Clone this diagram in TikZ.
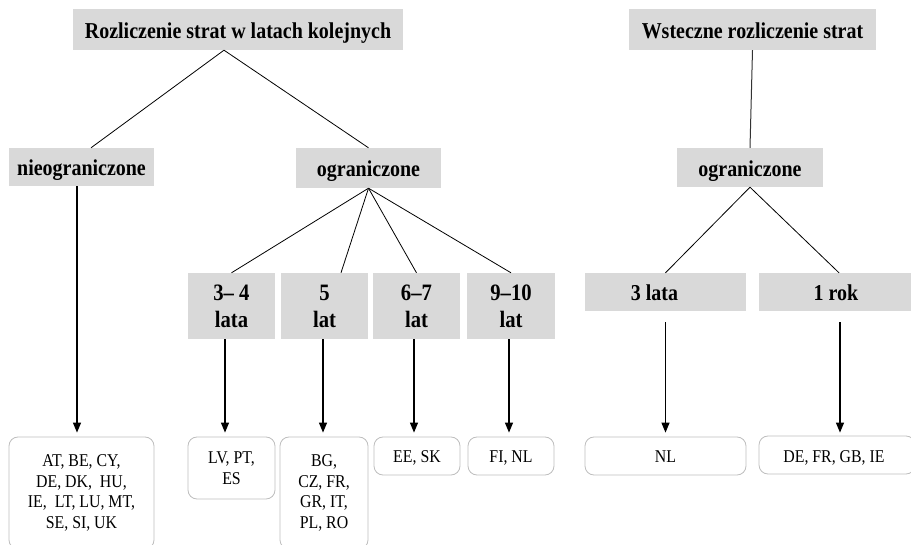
\documentclass[tikz,border=0pt]{standalone}
\usepackage{fontspec}
\setmainfont[FakeStretch=0.88]{Liberation Serif}
\usetikzlibrary{arrows.meta,calc}
\definecolor{hdrfill}{RGB}{217,217,217}
\definecolor{leafdraw}{RGB}{190,190,190}
\begin{document}
\begin{tikzpicture}[x=1pt,y=-1pt,
  hdr/.style={fill=hdrfill, draw=none, inner sep=0pt, font=\fontsize{22.7}{27}\selectfont\bfseries, align=center},
  hdrone/.style={hdr, text height=17.5pt, text depth=0pt},
  hdrb/.style={hdr, font=\fontsize{23.5}{27}\selectfont\bfseries},
  leaf/.style={draw=leafdraw, line width=0.8pt, rounded corners=9pt, fill=white, inner sep=0pt, font=\fontsize{18}{20.7}\selectfont, align=center},
  leafone/.style={leaf, text height=14pt, text depth=0pt},
  link/.style={line width=0.8pt},
  arr/.style={line width=1.2pt, -{Triangle[length=10pt,width=8pt]}}]
\useasboundingbox (0,0) rectangle (911,545);
\clip (0,0) rectangle (911,545);
% headers
\node[hdrone, minimum width=330pt, minimum height=41pt] (top) at (238,29.5) {Rozliczenie strat w latach kolejnych};
\node[hdrone, minimum width=145pt, minimum height=38pt] (nieo) at (81.5,167) {nieograniczone};
\node[hdrone, minimum width=145pt, minimum height=40pt] (ogr) at (368.5,168) {ograniczone};
\node[hdrone, minimum width=247pt, minimum height=41pt] (wst) at (752.5,29.5) {Wsteczne rozliczenie strat};
\node[hdrone, minimum width=146pt, minimum height=39pt] (ogrb) at (750,167.5) {ograniczone};
\node[hdrb, minimum width=87pt, minimum height=66pt] (b34) at (231.5,306) {3– 4\\lata};
\node[hdrb, minimum width=87pt, minimum height=66pt] (b5) at (324.5,306) {5\\lat};
\node[hdrb, minimum width=87pt, minimum height=66pt] (b67) at (416.5,306) {6–7\\lat};
\node[hdrb, minimum width=88pt, minimum height=66pt] (b910) at (511,306) {9–10\\lat};
\node[hdrone, minimum width=161pt, minimum height=38pt] (b3l) at (665.5,292) {3 lata\hspace*{22pt}};
\node[hdrone, minimum width=154pt, minimum height=38pt] (b1r) at (836,292) {1 rok};
% leaves
\node[leaf, minimum width=145pt, minimum height=112pt] (l0) at (81.5,493) {AT, BE, CY,\\DE, DK,~ HU,\\IE,~ LT, LU, MT,\\SE, SI, UK};
\node[leaf, minimum width=87pt, minimum height=62pt] (l34) at (231.5,468) {LV, PT,\\ES};
\node[leaf, minimum width=88pt, minimum height=112pt] (l5) at (324,493) {BG,\\CZ, FR,\\GR, IT,\\PL, RO};
\node[leafone, minimum width=86pt, minimum height=38pt] (l67) at (417,456) {EE, SK};
\node[leafone, minimum width=86pt, minimum height=38pt] (l910) at (511,456) {FI, NL};
\node[leafone, minimum width=161pt, minimum height=38pt] (lnl) at (665.5,456) {NL};
\node[leafone, minimum width=156pt, minimum height=38pt] (lde) at (837,455) {DE, FR, GB, IE\hspace*{6pt}};
% links
\draw[link] ($(top.south)+(-14,0)$) -- ($(nieo.north)+(9.5,0)$);
\draw[link] ($(top.south)+(-14,0)$) -- (ogr.north);
\draw[link] (ogr.south) -- (b34.north);
\draw[link] (ogr.south) -- ($(b5.north)+(16.5,0)$);
\draw[link] (ogr.south) -- (b67.north);
\draw[link] (ogr.south) -- (b910.north);
\draw[link, line width=1pt, black!80] (wst.south) -- (ogrb.north);
\draw[link] (ogrb.south) -- (b3l.north);
\draw[link] (ogrb.south) -- ($(b1r.north)+(3,0)$);
% arrows
\draw[arr, shorten >=4pt] ($(nieo.south)+(-4.5,0)$) -- ($(l0.north)+(-4.5,0)$);
\draw[arr, shorten >=4pt] ($(b34.south)+(-6.5,0)$) -- ($(l34.north)+(-6.5,0)$);
\draw[arr, shorten >=4pt] ($(b5.south)+(-1.5,0)$) -- ($(l5.north)+(-1,0)$);
\draw[arr, shorten >=4pt] ($(b67.south)+(-2.5,0)$) -- ($(l67.north)+(-3,0)$);
\draw[arr, shorten >=4pt] ($(b910.south)+(-2,0)$) -- ($(l910.north)+(-2,0)$);
\draw[arr, shorten <=11pt, shorten >=4pt] (b3l.south) -- (lnl.north);
\draw[arr, shorten <=11pt, shorten >=3pt] ($(b1r.south)+(4,0)$) -- ($(lde.north)+(3,0)$);
\end{tikzpicture}
\end{document}
